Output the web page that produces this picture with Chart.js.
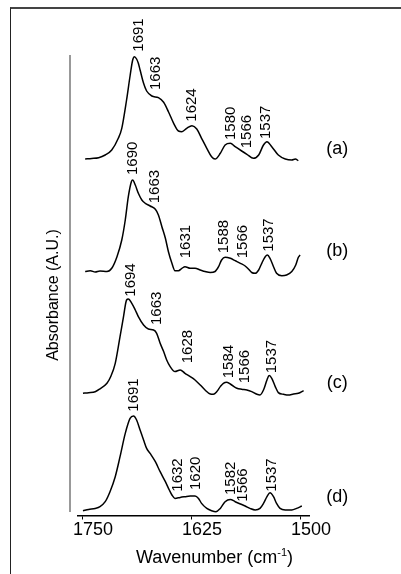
<!DOCTYPE html>
<html lang="en">
<head>
<meta charset="UTF-8">
<title>FTIR amide I spectra</title>
<style>
  html, body { margin: 0; padding: 0; background: #fff; }
  #wrap { position: relative; width: 401px; height: 574px; overflow: hidden; }
  #frame { position: absolute; left: 10px; top: 7px; right: -10px; bottom: -10px;
           border-top: 2px solid #444; border-left: 1.5px solid #222; }
  canvas { position: absolute; left: 0; top: 0; }
</style>
</head>
<body>
<div id="wrap">
  <div id="frame"></div>
  <canvas id="chartCanvas" width="401" height="574"></canvas>
</div>
<script src="https://cdn.jsdelivr.net/npm/chart.js"></script>
<script>
// [wavenumber, absorbance], baseline = 0
const specA = [[1747.5,0.1],[1740,0.15],[1732,0.23],[1724.5,0.5],[1717,1.0],[1709.5,2.17],[1705.5,3.17],[1700,6.0],[1696,8.4],[1693,10.0],[1691,10.33],[1688.5,10.1],[1686.5,9.67],[1684.5,9.0],[1680.5,7.67],[1677,6.9],[1671,6.4],[1663.5,6.23],[1657.5,5.77],[1652,4.83],[1646,3.67],[1640.5,2.9],[1636.5,2.83],[1631,3.17],[1625,3.43],[1619.5,3.1],[1614,2.17],[1608,1.17],[1602.5,0.33],[1598.5,0.1],[1592.5,0.67],[1587,1.5],[1581,1.67],[1575.5,1.33],[1568,0.9],[1562,0.57],[1554.5,0.17],[1548.5,0.5],[1543,1.5],[1539,1.83],[1533.5,1.33],[1526,0.5],[1518,0.1],[1510.5,0],[1506.5,0.1],[1503,-0.07]];
const specB = [[1747.5,0],[1741.5,0.08],[1736,-0.05],[1730.5,0.05],[1722.5,0],[1717,0.32],[1711,1.48],[1705.5,3.15],[1701.5,5.15],[1698,7.48],[1694.5,8.98],[1693,9.15],[1690,8.65],[1686.5,7.82],[1682.5,7.15],[1678.5,6.82],[1673,6.55],[1667,6.22],[1663.5,5.65],[1659.5,4.48],[1655.5,3.32],[1652,1.98],[1648,0.82],[1644.5,0.08],[1640.5,0.08],[1636.5,0.32],[1633,0.48],[1627,0.32],[1621.5,0.32],[1615.5,0.15],[1610,0],[1604,-0.1],[1598.5,0],[1594.5,0.48],[1591,1.15],[1587,1.42],[1581,1.32],[1575.5,1.08],[1569.5,0.82],[1564,0.55],[1560,0.22],[1556.5,-0.1],[1552.5,-0.18],[1548.5,0.15],[1545,0.82],[1541,1.48],[1538.5,1.65],[1535.5,1.32],[1531.5,0.48],[1528,-0.18],[1522,-0.42],[1516.5,-0.35],[1510.5,0],[1506,0.65],[1503,1.42],[1501,1.65]];
const specC = [[1750,0],[1743.5,0.06],[1736,0.16],[1730.5,0.45],[1722.5,1.0],[1718,1.7],[1713,3.0],[1707.5,5.67],[1703.5,7.67],[1700,9.33],[1698,9.43],[1694,9.0],[1690,8.33],[1686.5,7.67],[1680.5,6.83],[1675,6.43],[1669,6.33],[1665.5,6.0],[1661.5,5.0],[1657.5,4.17],[1654,3.33],[1650,2.67],[1644.5,2.17],[1638.5,2.33],[1633,2.0],[1627,1.67],[1621.5,1.33],[1615.5,0.83],[1610,0.33],[1604,-0.07],[1600.5,-0.1],[1596.5,0.17],[1592.5,0.67],[1589,1.0],[1585,1.1],[1579.5,0.83],[1573.5,0.5],[1568,0.4],[1562,0.33],[1556.5,0.17],[1550.5,-0.1],[1547,-0.17],[1543,0.33],[1539,1.33],[1536.5,1.77],[1533.5,1.5],[1529.5,0.67],[1526,0.07],[1520,-0.1],[1514.5,-0.17],[1508.5,-0.07],[1503,0],[1497,0.27]];
const specD = [[1750,0],[1743.5,0.13],[1736,0.23],[1730.5,0.4],[1724.5,0.9],[1719,1.9],[1713,3.4],[1707.5,5.4],[1701.5,7.73],[1696,9.23],[1692,9.47],[1688.5,9.07],[1684.5,8.07],[1680.5,7.07],[1677,6.23],[1673,5.73],[1667,4.9],[1661.5,3.9],[1655.5,2.9],[1651,2.07],[1648,1.57],[1644.5,1.23],[1638.5,1.33],[1633,1.4],[1627,1.47],[1621.5,1.47],[1617.5,1.23],[1614,0.73],[1608,0.23],[1602.5,0],[1597.5,-0.1],[1592.5,0.23],[1587,0.9],[1581,1.13],[1575.5,0.9],[1569.5,0.67],[1564,0.47],[1558.5,0.23],[1552.5,0.07],[1547,0.23],[1543,0.73],[1539,1.4],[1535.5,1.8],[1531.5,1.4],[1528,0.73],[1524,0.23],[1518,0.07],[1510.5,0.07],[1505,0.23],[1499,0.47]];

const sampleNames = ['(a)', '(b)', '(c)', '(d)'];
const offsets = [35.55, 24.4, 12.22, 0.48];      // vertical stacking of the traces
const sampleLabelY = [36.65, 26.4, 13.25, 1.8];
const sampleLabelWn = 1458.5;
const xTicks = [1750, 1625, 1500];

// [text, wavenumber, absorbance where the label starts]
const peakLabels = [
  ['1691',1686,46.38],['1663',1666.3,42.55],['1624',1625.2,39.38],['1580',1580.9,37.55],['1566',1562.2,36.72],['1537',1540.1,37.65],
  ['1690',1692.7,34.05],['1663',1667.4,31.22],['1631',1631.9,25.72],['1588',1588,26.22],['1566',1566.9,25.72],['1537',1537.3,26.38],
  ['1694',1694.6,21.88],['1663',1665.4,19.05],['1628',1629.6,15.22],['1584',1583.1,13.72],['1566',1564,13.22],['1537',1533.5,14.22],
  ['1691',1691.5,10.38],['1632',1641.4,2.38],['1620',1620.4,2.55],['1582',1580.3,2.05],['1566',1566.9,1.38],['1537',1533.5,2.38]
];

const FONT = '"Liberation Sans", Arial, Helvetica, sans-serif';

const decorations = {
  id: 'decorations',
  afterDraw(chart) {
    const { ctx, chartArea, scales: { x, y } } = chart;
    ctx.save();

    // grey ordinate line, set a little left of the plot
    ctx.strokeStyle = '#777';
    ctx.lineWidth = 1.5;
    ctx.beginPath();
    ctx.moveTo(chartArea.left - 8, y.getPixelForValue(46.05));
    ctx.lineTo(chartArea.left - 8, y.getPixelForValue(0.35));
    ctx.stroke();

    ctx.fillStyle = '#000';

    // peak positions, rotated
    ctx.font = '15px ' + FONT;
    ctx.textAlign = 'left';
    ctx.textBaseline = 'middle';
    peakLabels.forEach(([text, wn, a]) => {
      ctx.save();
      ctx.translate(x.getPixelForValue(wn), y.getPixelForValue(a));
      ctx.rotate(-Math.PI / 2);
      ctx.fillText(text, 0, 0);
      ctx.restore();
    });

    // (a) ... (d)
    ctx.font = '18px ' + FONT;
    ctx.textAlign = 'center';
    sampleNames.forEach((name, i) => {
      ctx.fillText(name, x.getPixelForValue(sampleLabelWn), y.getPixelForValue(sampleLabelY[i]));
    });

    // y title
    ctx.save();
    ctx.font = '16px ' + FONT;
    ctx.translate(chartArea.left - 24, 295);
    ctx.rotate(-Math.PI / 2);
    ctx.fillText('Absorbance (A.U.)', 0, 0);
    ctx.restore();

    // x title with superscript
    ctx.textAlign = 'left';
    ctx.textBaseline = 'alphabetic';
    const main = 'Wavenumber (cm', sup = '-1', end = ')';
    ctx.font = '18px ' + FONT;
    const w1 = ctx.measureText(main).width, w3 = ctx.measureText(end).width;
    ctx.font = '11px ' + FONT;
    const w2 = ctx.measureText(sup).width;
    let tx = (chartArea.left + chartArea.right) / 2 + 21 - (w1 + w2 + w3) / 2;
    const base = chartArea.bottom + 47;
    ctx.font = '18px ' + FONT;
    ctx.fillText(main, tx, base);
    ctx.font = '11px ' + FONT;
    ctx.fillText(sup, tx + w1, base - 7);
    ctx.font = '18px ' + FONT;
    ctx.fillText(end, tx + w1 + w2, base);

    ctx.restore();
  }
};

const spectra = [specA, specB, specC, specD];

new Chart(document.getElementById('chartCanvas'), {
  type: 'line',
  data: {
    datasets: spectra.map((spec, i) => ({
      label: sampleNames[i],
      data: spec.map(([wn, a]) => ({ x: wn, y: a + offsets[i] })),
      borderColor: '#000',
      borderWidth: 1.5,
      pointRadius: 0,
      fill: false,
      cubicInterpolationMode: 'monotone'
    }))
  },
  options: {
    responsive: false,
    animation: false,
    layout: { padding: { left: 78, right: 92, top: 15.5, bottom: 28.5 } },
    plugins: { legend: { display: false }, tooltip: { enabled: false } },
    scales: {
      x: {
        type: 'linear',
        reverse: true,
        min: 1490.8,
        max: 1755.7,
        afterBuildTicks: s => { s.ticks = xTicks.map(v => ({ value: v })); },
        afterFit: s => { s.height = 30; },
        border: { display: true, color: '#000', width: 1.4 },
        grid: { display: true, drawOnChartArea: false, drawTicks: true, tickLength: 4, color: '#000', tickColor: '#000', lineWidth: 1 },
        ticks: { padding: 0, labelOffset: 10, color: '#000', autoSkip: false, maxRotation: 0,
                 font: { family: FONT, size: 18 }, callback: v => String(v) }
      },
      y: { display: false, min: 0, max: 50 }
    }
  },
  plugins: [decorations]
});
</script>
</body>
</html>
